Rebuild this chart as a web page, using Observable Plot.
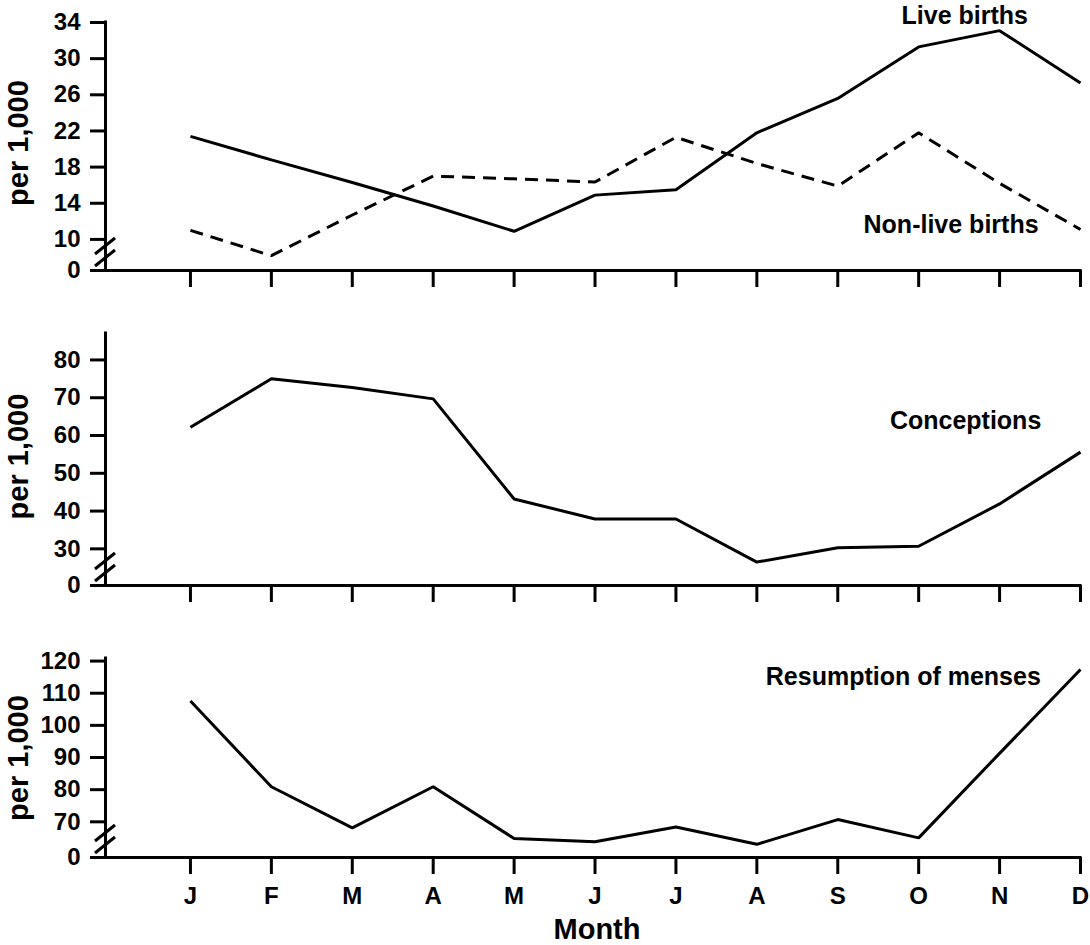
<!DOCTYPE html>
<html><head><meta charset="utf-8">
<script src="https://cdn.jsdelivr.net/npm/d3@7"></script>
<script src="https://cdn.jsdelivr.net/npm/@observablehq/plot@0.6"></script>
<style>
html,body{margin:0;padding:0;background:#fff;overflow:hidden;}
#chart svg{display:block;}
#chart g[aria-label*="axis"] line, #chart g[aria-label*="axis"] path {stroke-width:3px !important; stroke:#000 !important;}
#chart g[aria-label*="axis"] text {font-size:24px !important; font-weight:bold !important; fill:#000;}
</style></head><body><div id="chart"></div>
<script>
// ---- data ----
const months = ["J","F","M","A","M","J","J","A","S","O","N","D"];
const liveBirths    = [21.4, 18.8, 16.3, 13.7, 10.9, 14.9, 15.5, 21.8, 25.6, 31.3, 33.1, 27.3];
const nonLiveBirths = [11.0, 8.2, 12.7, 17.0, 16.7, 16.35, 21.3, 18.4, 15.9, 21.8, 16.2, 11.1];
const conceptions   = [62.2, 75.0, 72.7, 69.7, 43.2, 37.9, 37.9, 26.5, 30.3, 30.7, 41.9, 55.6];
const menses        = [107.6, 80.9, 68.1, 80.9, 64.8, 63.8, 68.4, 63.0, 70.7, 65.0, 91.3, 117.4];
const ticks1 = [10, 14, 18, 22, 26, 30, 34];
const ticks2 = [30, 40, 50, 60, 70, 80];
const ticks3 = [70, 80, 90, 100, 110, 120];

const monthNums = months.map((m, i) => i + 1);
const rows = arr => arr.map((v, i) => ({month: i + 1, value: v}));

const X_MIN = -0.05, X_MAX = 12;
const FONT = "'Liberation Sans', Arial, Helvetica, sans-serif";
const root = document.getElementById("chart");

function panel({height, marginTop, marginBottom, yDomain, yTicks, series, label, titleDy, showMonths}) {
  const base = yDomain[0];
  const marks = [
    Plot.ruleX([X_MIN], {y1: base, y2: yDomain[1], stroke: "#000", strokeWidth: 3, strokeLinecap: "square"}),
    Plot.ruleY([base], {x1: X_MIN, x2: X_MAX, stroke: "#000", strokeWidth: 3, strokeLinecap: "square"}),
    ...series.map(s => Plot.line(rows(s.values), {x: "month", y: "value", stroke: "#000", strokeWidth: 3,
      strokeLinejoin: "miter", strokeLinecap: "butt", strokeDasharray: s.dash || null})),
    ...label.map(l => Plot.text([l], {x: "x", y: "y", text: "text", fontSize: 25, fontWeight: "bold", fill: "#000"})),
    Plot.text(["per 1,000"], {frameAnchor: "left", textAnchor: "middle", lineAnchor: "middle", text: d => d,
      rotate: -90, dx: -87, dy: titleDy, fontSize: 29, fontWeight: "bold", fill: "#000"})
  ];
  if (showMonths) marks.push(Plot.text(["Month"], {frameAnchor: "bottom", textAnchor: "middle", lineAnchor: "middle",
    text: d => d, dx: 4, dy: 72, fontSize: 29, fontWeight: "bold", fill: "#000"}));
  const plot = Plot.plot({
    width: 1090, height, marginLeft: 105, marginRight: 10, marginTop, marginBottom,
    style: {fontFamily: FONT, fontSize: "24px", fontWeight: "bold", color: "#000", background: "#fff"},
    x: {domain: [X_MIN, X_MAX], ticks: monthNums, tickSize: 17, tickPadding: 12,
        tickFormat: showMonths ? (d => months[d - 1]) : (() => ""), label: null},
    y: {domain: yDomain, ticks: [base, ...yTicks], tickSize: 15, tickPadding: 10,
        tickFormat: d => d === base ? "0" : String(d), label: null},
    marks
  });
  root.appendChild(plot);
  // axis-break slashes, positioned through the plot's own scales
  const sx = plot.scale("x"), sy = plot.scale("y");
  const fx = sx.apply ? sx.apply : d3.scaleLinear(sx.domain, sx.range);
  const fy = sy.apply ? sy.apply : d3.scaleLinear(sy.domain, sy.range);
  const x0 = fx(X_MIN), y0 = fy(base);
  const g = d3.select(plot.tagName === "svg" ? plot : plot.querySelector("svg"))
    .append("g").attr("stroke", "#000").attr("stroke-width", 3);
  for (const off of [4, 16]) {
    g.append("line").attr("x1", x0 - 10).attr("y1", y0 - off).attr("x2", x0 + 10).attr("y2", y0 - off - 16);
  }
}

panel({height: 300, marginTop: 22, marginBottom: 30, yDomain: [6.56, 34], yTicks: ticks1,
  series: [{values: liveBirths}, {values: nonLiveBirths, dash: "13,8"}],
  label: [{x: 10.57, y: 34.75, text: "Live births"}, {x: 10.40, y: 11.6, text: "Non-live births"}],
  titleDy: -3.5, showMonths: false});
panel({height: 315, marginTop: 33, marginBottom: 30, yDomain: [20.3, 87], yTicks: ticks2,
  series: [{values: conceptions}],
  label: [{x: 10.58, y: 63.9, text: "Conceptions"}],
  titleDy: -3, showMonths: false});
panel({height: 330, marginTop: 43, marginBottom: 88, yDomain: [58.9, 120.8], yTicks: ticks3,
  series: [{values: menses}],
  label: [{x: 9.81, y: 115.0, text: "Resumption of menses"}],
  titleDy: 0, showMonths: true});
</script></body></html>
